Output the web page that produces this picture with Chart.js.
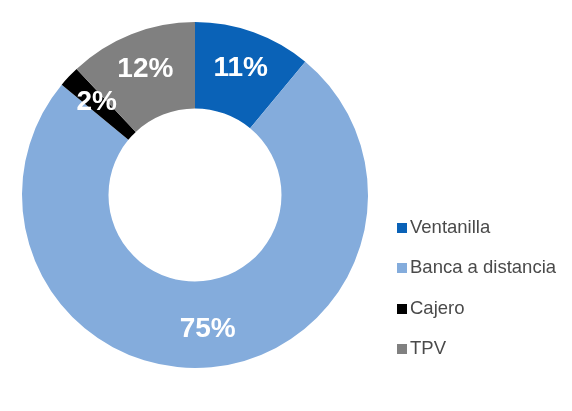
<!DOCTYPE html>
<html>
<head>
<meta charset="utf-8">
<script src="https://cdn.jsdelivr.net/npm/chart.js@4/dist/chart.umd.min.js"></script>
<style>
  html, body { margin: 0; padding: 0; background: #ffffff; }
  #wrap { position: relative; width: 572px; height: 411px; overflow: hidden; }
  #c { position: absolute; left: 0; top: 0; }
  #legend { position: absolute; left: 397px; top: 218px; font-family: "Liberation Sans", Arial, sans-serif; font-size: 18.5px; color: #4a4a4a; }
  .item { position: relative; height: 40.4px; line-height: 20px; white-space: nowrap; }
  .sw { position: absolute; left: 0; top: 5px; width: 10px; height: 10px; }
  .txt { position: absolute; left: 13px; top: -1px; }
</style>
</head>
<body>
<div id="wrap">
  <canvas id="c" width="572" height="411"></canvas>
  <div id="legend"></div>
</div>
<script>
const categories = ["Ventanilla", "Banca a distancia", "Cajero", "TPV"];
const values = [11, 75, 2, 12];
const valueLabels = ["11%", "75%", "2%", "12%"];
const colors = ["#0a62b7", "#84acdc", "#000000", "#808080"];

const labelPlugin = {
  id: 'sliceLabels',
  afterDatasetsDraw(chart) {
    const ctx = chart.ctx;
    const meta = chart.getDatasetMeta(0);
    ctx.save();
    ctx.font = 'bold 28px "Liberation Sans", Arial, sans-serif';
    ctx.fillStyle = '#ffffff';
    ctx.textAlign = 'center';
    ctx.textBaseline = 'middle';
    meta.data.forEach((arc, i) => {
      const p = arc.getProps(['x', 'y', 'startAngle', 'endAngle', 'innerRadius', 'outerRadius'], true);
      const mid = (p.startAngle + p.endAngle) / 2;
      const r = (p.innerRadius + p.outerRadius) / 2 + 5;
      ctx.fillText(valueLabels[i], p.x + Math.cos(mid) * r, p.y + Math.sin(mid) * r);
    });
    ctx.restore();
  }
};

new Chart(document.getElementById('c'), {
  type: 'doughnut',
  data: {
    labels: categories,
    datasets: [{
      data: values,
      backgroundColor: colors,
      borderWidth: 0
    }]
  },
  options: {
    responsive: false,
    animation: false,
    cutout: '50%',
    layout: { padding: { left: 22, top: 22, right: 204, bottom: 43 } },
    plugins: {
      legend: { display: false },
      tooltip: { enabled: false }
    }
  },
  plugins: [labelPlugin]
});

const legend = document.getElementById('legend');
categories.forEach((name, i) => {
  const item = document.createElement('div');
  item.className = 'item';
  const sw = document.createElement('span');
  sw.className = 'sw';
  sw.style.background = colors[i];
  const t = document.createElement('span');
  t.className = 'txt';
  t.textContent = name;
  item.appendChild(sw);
  item.appendChild(t);
  legend.appendChild(item);
});
</script>
</body>
</html>
